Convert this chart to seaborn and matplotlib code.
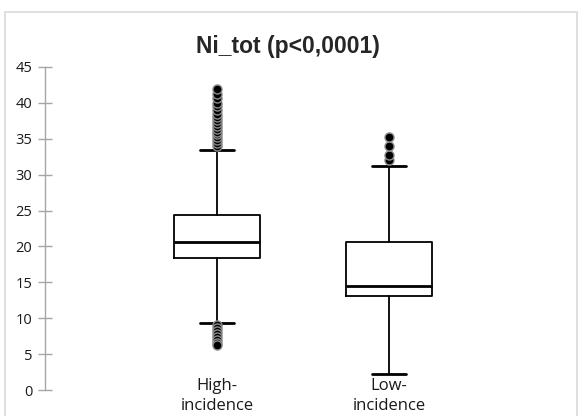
import matplotlib
matplotlib.use("Agg")
import matplotlib.pyplot as plt
import seaborn as sns

# Box statistics for nickel totals by incidence group
groups = ["High-\nincidence", "Low-\nincidence"]
whisker_low = [9.4, 2.2]
q1 = [18.4, 13.1]
median = [20.6, 14.5]
q3 = [24.4, 20.6]
whisker_high = [33.4, 31.2]
outliers_high = [
    [34.0, 34.4, 34.8, 35.2, 35.6, 36.0, 36.4, 36.8, 37.2, 37.6, 38.0, 38.5,
     39.0, 39.5, 40.0, 40.7, 41.3, 42.0,
     9.0, 8.6, 8.2, 7.8, 7.4, 7.0, 6.6, 6.3],
    [32.0, 32.8, 34.0, 35.2],
]
title = "Ni_tot (p<0,0001)"
yticks = [0, 5, 10, 15, 20, 25, 30, 35, 40, 45]

sns.set_style("white")
plt.rcParams["font.family"] = ["Open Sans", "DejaVu Sans"]

fig = plt.figure(figsize=(5.79, 4.16), dpi=100)
ax = fig.add_axes([45 / 579, 1 - 390 / 416, (561 - 45) / 579, (390 - 67) / 416])

stats = []
for i in range(len(groups)):
    stats.append(dict(
        label=groups[i], whislo=whisker_low[i], q1=q1[i], med=median[i],
        q3=q3[i], whishi=whisker_high[i], fliers=outliers_high[i],
    ))

ax.bxp(
    stats, positions=list(range(len(groups))), widths=0.5,
    boxprops=dict(color="black", linewidth=1.3),
    medianprops=dict(color="black", linewidth=2.0),
    whiskerprops=dict(color="black", linewidth=1.3),
    capprops=dict(color="black", linewidth=2.0),
    capwidths=0.2,
    flierprops=dict(marker="o", markerfacecolor="black", markeredgecolor="#8c8c8c",
                    markersize=6.5, markeredgewidth=1.0, linestyle="none"),
)

ax.set_xlim(-1, 2)
ax.set_ylim(0, 45)
ax.set_yticks(yticks)
ax.set_yticklabels([str(t) for t in yticks])
ax.set_xticks(range(len(groups)))
ax.set_xticklabels(groups, fontsize=12, color="#1a1a1a", linespacing=1.4)

for side in ["top", "right", "bottom"]:
    ax.spines[side].set_visible(False)
ax.spines["left"].set_color("#a6a6a6")
ax.spines["left"].set_linewidth(1.0)
ax.tick_params(axis="y", direction="inout", length=10, width=1.0, color="#a6a6a6",
               labelsize=10.5, labelcolor="#1a1a1a", pad=4, left=True)
ax.tick_params(axis="x", length=0, pad=-9)

fig.text(288 / 579, 1 - 47 / 416, title, ha="center", va="center",
         fontsize=16.5, fontweight="bold", family=["Liberation Sans", "DejaVu Sans"])

# Light chart-area frame
frame = plt.Rectangle((5 / 579, -0.05), 572 / 579, 1 - 12 / 416 + 0.05,
                      transform=fig.transFigure, fill=False,
                      edgecolor="#d9d9d9", linewidth=1.2)
fig.patches.append(frame)

fig.savefig("out.png", dpi=100)
